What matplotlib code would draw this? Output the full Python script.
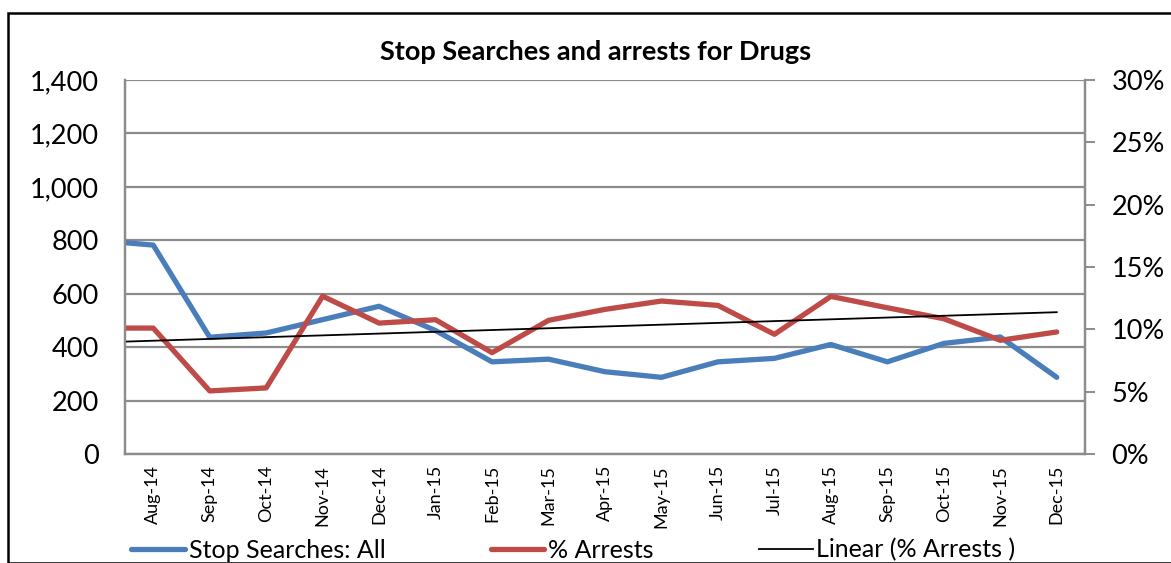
import numpy as np
import matplotlib
matplotlib.use("Agg")
import matplotlib.pyplot as plt
from matplotlib.patches import Rectangle
from matplotlib.ticker import FuncFormatter, MultipleLocator

plt.rcParams['font.family'] = ['Lato', 'DejaVu Sans']

# datos (Jul-14 queda fuera del eje, sólo se ve el trozo de línea que entra)
months = ["Jul-14", "Aug-14", "Sep-14", "Oct-14", "Nov-14", "Dec-14", "Jan-15",
          "Feb-15", "Mar-15", "Apr-15", "May-15", "Jun-15", "Jul-15",
          "Aug-15", "Sep-15", "Oct-15", "Nov-15", "Dec-15"]
stop_searches = [800, 782, 437, 453, 503, 553, 462, 345, 355, 308, 287,
                 345, 358, 410, 345, 414, 438, 287]
pct_arrests = [10.1, 10.1, 5.06, 5.3, 12.66, 10.5, 10.77, 8.13, 10.72, 11.6,
               12.27, 11.92, 9.6, 12.64, 11.73, 10.85, 9.12, 9.79]

x = np.arange(len(months)) - 1  # Aug-14 en 0

fig = plt.figure(figsize=(11.71, 5.63), dpi=100)
ax = fig.add_axes([125 / 1171, 1 - 454 / 563, 960 / 1171, 374 / 563])
ax2 = ax.twinx()

grid_c = "#8c8c8c"
ax.set_ylim(0, 1400)
ax.yaxis.set_major_locator(MultipleLocator(200))
ax.yaxis.set_major_formatter(FuncFormatter(lambda v, p: f"{v:,.0f}"))
ax.grid(axis="y", color=grid_c, lw=1.6)
ax.set_axisbelow(True)
ax.set_xlim(-0.5, 16.5)
ax.set_xticks(x[1:])
ax.set_xticklabels(months[1:], rotation=90, fontsize=13)
ax.tick_params(axis="x", length=0, pad=8)
ax.tick_params(axis="y", length=0, labelsize=19.5, pad=19)

ax2.set_ylim(0, 30)
ax2.yaxis.set_major_locator(MultipleLocator(5))
ax2.yaxis.set_major_formatter(FuncFormatter(lambda v, p: f"{v:.0f}%"))
ax2.tick_params(axis="y", length=7, width=1.4, color=grid_c, labelsize=19.5, pad=12)

for a in (ax, ax2):
    for s in a.spines.values():
        s.set_color(grid_c)
        s.set_linewidth(1.6)
    a.spines["top"].set_visible(False)

l1, = ax.plot(x, stop_searches, color="#4a7ebb", lw=3.8, solid_capstyle="round",
              label="Stop Searches: All")
l2, = ax2.plot(x, pct_arrests, color="#be4b48", lw=3.8, solid_capstyle="round",
               label="% Arrests")
coef = np.polyfit(x, pct_arrests, 1)
l3, = ax2.plot(x, np.polyval(coef, x), color="black", lw=1.3,
               label="Linear (% Arrests )")

fig.suptitle("Stop Searches and arrests for Drugs", x=596 / 1171, y=1 - 52 / 563,
             va="center", fontsize=19.5, fontweight="bold")

fig.legend(handles=[l1, l2, l3], loc="center left", bbox_to_anchor=(131 / 1171, 1 - 550 / 563),
           ncol=3, frameon=False, fontsize=18, handlelength=2.15, handletextpad=0.16,
           columnspacing=4.2, borderaxespad=0, borderpad=0)

fig.patches.append(Rectangle((8 / 1171, 0), 1.2, 1 - 13 / 563, transform=fig.transFigure,
                             fill=False, ec="black", lw=1.8))

fig.savefig("out.png", dpi=100)
